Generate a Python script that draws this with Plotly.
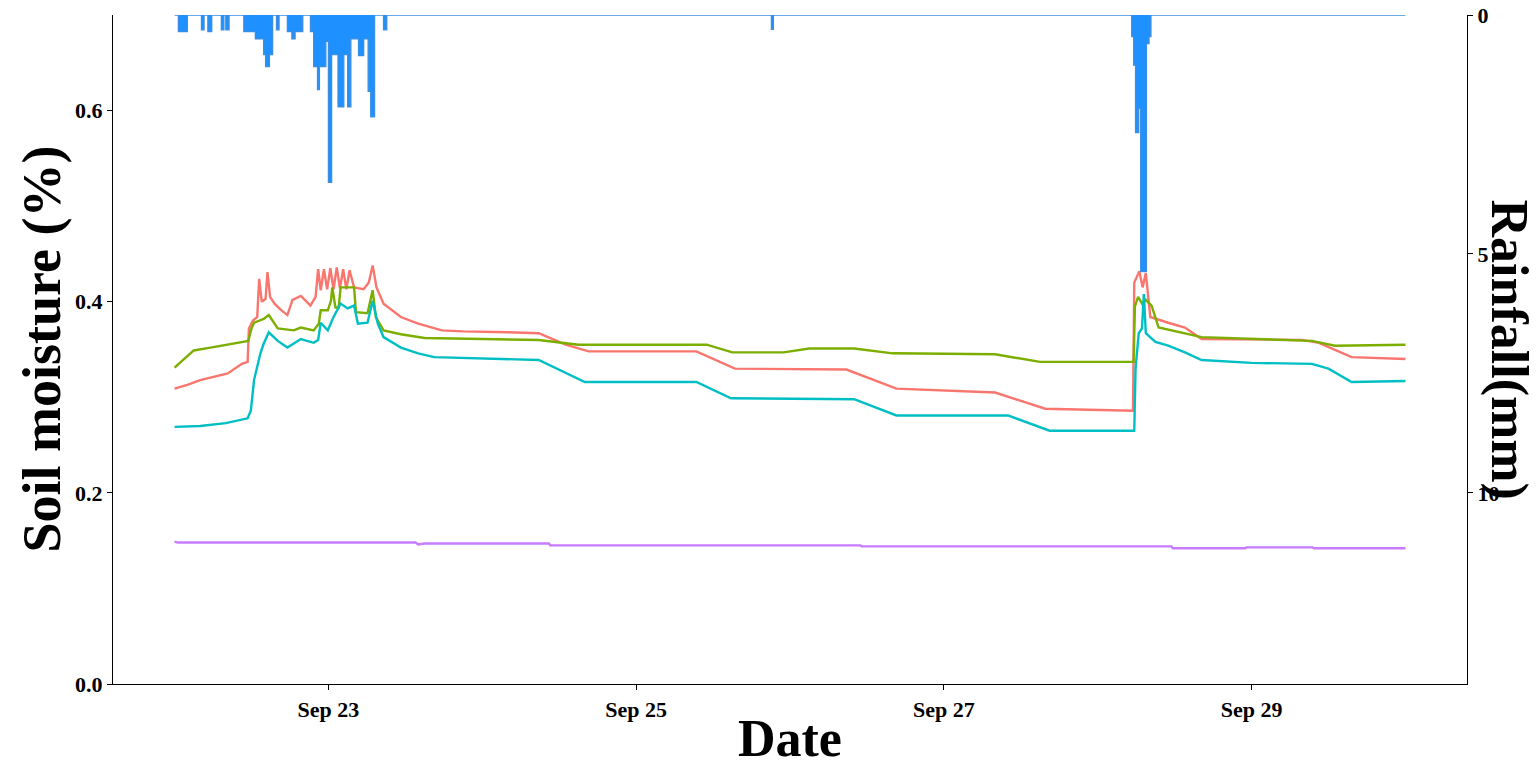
import pandas as pd
import plotly.graph_objects as go

# ---------------- data (hours since Sep 22 00:00) ----------------
START = pd.Timestamp("2021-09-22 00:00")

red_hours = [0, 2, 4, 6, 8.3, 10.5, 11.4, 11.6, 12.2, 12.9, 13.2, 13.6, 14.2, 14.5, 14.9, 15.6,
             16.5, 17.6, 18.4, 19.7, 21.2, 22.0, 22.4, 22.8, 23.3, 23.8, 24.3, 24.8, 25.3, 25.8,
             26.3, 26.8, 27.3, 28.0, 29.5, 30.3, 30.9, 31.5, 32.6, 35.3, 38, 41.7, 45, 52, 56.8,
             61, 64.6, 81.4, 87.4, 104.8, 112.6, 128, 135.8, 149.5, 149.7, 150.5, 151.0, 151.5,
             152.2, 155, 157.6, 160.2, 175.8, 178.5, 183.6, 192]
red_vals = [0.309, 0.313, 0.318, 0.321, 0.325, 0.335, 0.337, 0.372, 0.380, 0.384, 0.424, 0.400,
            0.403, 0.431, 0.405, 0.398, 0.392, 0.386, 0.402, 0.406, 0.396, 0.405, 0.434, 0.412,
            0.434, 0.413, 0.435, 0.413, 0.436, 0.414, 0.434, 0.413, 0.433, 0.415, 0.413, 0.420,
            0.438, 0.415, 0.398, 0.384, 0.377, 0.370, 0.369, 0.368, 0.367, 0.355, 0.348, 0.348,
            0.330, 0.329, 0.309, 0.305, 0.288, 0.286, 0.420, 0.432, 0.415, 0.430, 0.384, 0.378,
            0.373, 0.361, 0.360, 0.357, 0.342, 0.340]

green_hours = [0, 1, 3, 5.6, 8, 10.8, 11.5, 12.0, 12.4, 13.9, 14.7, 16.1, 18.6, 19.7, 21.7, 22.5,
               22.8, 23.9, 24.4, 24.6, 25.1, 25.6, 25.9, 28.0, 28.3, 30.1, 30.9, 31.4, 32.6, 35.3,
               39, 56.8, 63, 83, 87, 95, 99, 106, 112, 128, 135, 149.6, 149.8, 150.3, 150.9,
               151.5, 152.4, 153.5, 157.6, 160.2, 177.4, 181, 192]
green_vals = [0.331, 0.337, 0.349, 0.352, 0.355, 0.358, 0.359, 0.372, 0.378, 0.382, 0.386, 0.372,
              0.370, 0.373, 0.370, 0.377, 0.391, 0.391, 0.401, 0.415, 0.394, 0.394, 0.415, 0.415,
              0.389, 0.388, 0.412, 0.384, 0.370, 0.366, 0.362, 0.360, 0.355, 0.355, 0.347, 0.347,
              0.351, 0.351, 0.346, 0.345, 0.337, 0.337, 0.395, 0.405, 0.398, 0.402, 0.396, 0.373,
              0.367, 0.363, 0.359, 0.354, 0.355]

cyan_hours = [0, 4, 8, 11.4, 11.9, 12.4, 13.4, 13.9, 14.7, 16.1, 17.6, 19.7, 21.7, 22.4, 22.8,
              23.9, 24.8, 25.9, 27.0, 28.0, 28.6, 30.1, 30.9, 31.7, 32.6, 35.3, 38, 40.5, 56.8,
              64, 81.4, 86.8, 106, 112.6, 130, 136.5, 149.7, 149.9, 150.4, 150.9, 151.2, 151.5,
              153, 155, 157.6, 160.2, 168, 177.4, 180, 183.6, 192]
cyan_vals = [0.269, 0.270, 0.273, 0.278, 0.286, 0.318, 0.346, 0.356, 0.368, 0.359, 0.352, 0.361,
             0.357, 0.360, 0.378, 0.370, 0.384, 0.398, 0.393, 0.396, 0.377, 0.378, 0.401, 0.377,
             0.363, 0.352, 0.346, 0.342, 0.339, 0.316, 0.316, 0.299, 0.298, 0.281, 0.281, 0.265,
             0.265, 0.330, 0.367, 0.372, 0.408, 0.367, 0.358, 0.354, 0.347, 0.339, 0.336, 0.335,
             0.330, 0.316, 0.317]

purple_hours = [0, 0.5, 37.6, 38, 39, 58.4, 58.6, 107, 107.2, 155.5, 155.7, 167, 167.2, 177.5,
                177.7, 192]
purple_vals = [0.149, 0.148, 0.148, 0.146, 0.147, 0.147, 0.145, 0.145, 0.144, 0.144, 0.142, 0.142,
               0.143, 0.143, 0.142, 0.142]

rain_hours = [0, 0.6, 2.0, 4.2, 4.6, 5.2, 5.8, 7.3, 7.7, 8.0, 8.5, 10.8, 12.6, 13.9, 14.2, 14.8,
              15.3, 15.9, 16.3, 17.6, 18.3, 18.8, 20.0, 21.2, 21.7, 22.3, 22.6, 23.6, 24.0, 24.5,
              25.5, 26.4, 27.0, 27.5, 28.7, 29.5, 30.2, 30.6, 31.2, 32.6, 33.1, 93.1, 93.4,
              149.3, 149.6, 149.9, 150.4, 150.7, 151.6, 152.0, 152.3, 192]
rain_mm = [0, 0.35, 0, 0.31, 0, 0.35, 0, 0.31, 0, 0.31, 0, 0.35, 0.5, 0.83, 1.08, 0.83,
           0, 0.31, 0, 0.35, 0.5, 0.35, 0, 0.35, 1.08, 1.56, 1.08, 0.55, 3.5, 0.83,
           1.92, 0.83, 1.92, 0.5, 0.85, 0.5, 1.6, 2.13, 0, 0.31, 0, 0.3, 0,
           0.45, 1.05, 2.46, 1.95, 5.37, 0.6, 0.45, 0, 0]

series_names = ["Sensor 1", "Sensor 2", "Sensor 3", "Sensor 4"]
series_colors = ["#F8766D", "#7CAE00", "#00BFC4", "#C77CFF"]

x_ticks = ["2021-09-23", "2021-09-25", "2021-09-27", "2021-09-29"]
x_tick_text = ["Sep 23", "Sep 25", "Sep 27", "Sep 29"]
y_ticks = [0, 0.2, 0.4, 0.6]
y_tick_text = ["0.0", "0.2", "0.4", "0.6"]
y2_ticks = [0, 5, 10]


def to_time(hours):
    return START + pd.to_timedelta(hours, unit="h")


FONT = "Liberation Serif, Times New Roman, serif"

fig = go.Figure()

fig.add_trace(go.Scatter(
    x=to_time(rain_hours), y=rain_mm, yaxis="y2", mode="lines",
    line=dict(color="#3C8FE0", width=1.3, shape="hv"),
    fill="tozeroy", fillcolor="#1E90FF", name="Rainfall", showlegend=False,
    hoverinfo="skip"))

all_series = [(red_hours, red_vals), (green_hours, green_vals),
              (cyan_hours, cyan_vals), (purple_hours, purple_vals)]
for (hrs, vals), name, col in zip(all_series, series_names, series_colors):
    fig.add_trace(go.Scatter(
        x=to_time(hrs), y=vals, mode="lines", name=name,
        line=dict(color=col, width=2.4), showlegend=False))

axis_common = dict(showline=True, linecolor="black", linewidth=1.4, ticks="outside",
                   ticklen=5, tickwidth=1.2, tickcolor="black", showgrid=False,
                   zeroline=False, automargin=False,
                   tickfont=dict(family=FONT, size=22, color="black", weight="bold"))

x_left = START - pd.Timedelta(hours=9.6)
x_right = START + pd.Timedelta(hours=201.6)

fig.update_layout(
    width=1537, height=768,
    margin=dict(l=113, r=70, t=15, b=84),
    plot_bgcolor="white", paper_bgcolor="white",
    showlegend=False,
    xaxis=dict(range=[x_left, x_right], tickvals=x_ticks, ticktext=x_tick_text,
               **axis_common),
    yaxis=dict(range=[0, 0.7], tickvals=y_ticks, ticktext=y_tick_text, **axis_common),
    yaxis2=dict(range=[14, 0], overlaying="y", side="right", anchor="x",
                tickvals=y2_ticks, **axis_common),
    annotations=[
        dict(text="<b>Date</b>", xref="paper", yref="paper", x=0.5, y=0,
             xanchor="center", yanchor="middle", yshift=-54, showarrow=False,
             font=dict(family=FONT, size=52, color="black")),
        dict(text="<b>Soil moisture (%)</b>", xref="paper", yref="paper", x=0, y=0.5,
             xanchor="center", yanchor="middle", xshift=-72, textangle=-90,
             showarrow=False, font=dict(family=FONT, size=54, color="black")),
        dict(text="<b>Rainfall(mm)</b>", xref="paper", yref="paper", x=1, y=0.5,
             xanchor="center", yanchor="middle", xshift=42, textangle=90,
             showarrow=False, font=dict(family=FONT, size=52, color="black")),
    ],
)

fig.write_html("out.html", config={"displayModeBar": False},
               post_script="document.body.style.margin='0';document.body.style.overflow='hidden';")
